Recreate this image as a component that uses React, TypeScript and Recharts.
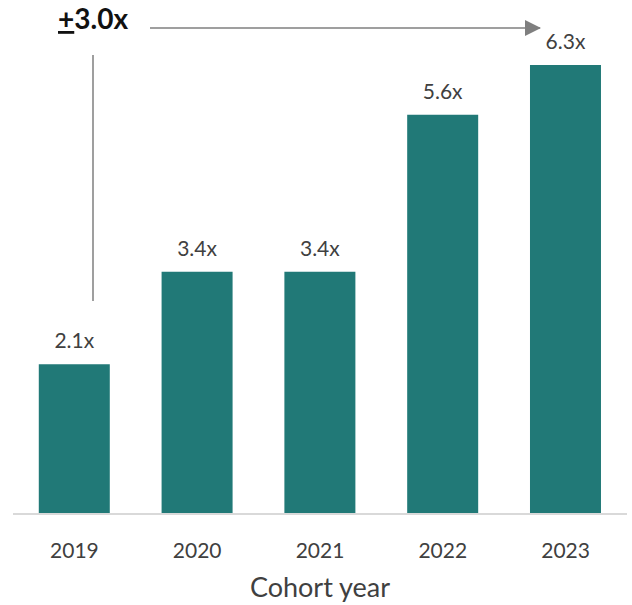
import React from 'react'
import { BarChart, Bar, XAxis, YAxis, LabelList } from 'recharts'

const years = ['2019', '2020', '2021', '2022', '2023']
const multiples = [2.1, 3.4, 3.4, 5.6, 6.3]
const growthLabel = '3.0x'
const axisTitle = 'Cohort year'

const data = years.map((year, i) => ({ year, value: multiples[i] }))

const FONT = 'Lato, "Open Sans", sans-serif'
const TEAL = '#217977'
const TEXT = '#404040'

function YearTick(props: any) {
  const { x, y, payload } = props
  return (
    <text x={x} y={y + 36} textAnchor="middle" fill={TEXT} fontSize={21} fontFamily={FONT}>
      {payload.value}
    </text>
  )
}

export default function App() {
  return (
    <div style={{ position: 'fixed', left: 0, top: 0, width: 632, height: 605, background: '#fff' }}>
      <BarChart
        width={632}
        height={605}
        data={data}
        margin={{ top: 15, right: 5, bottom: 0, left: 13 }}
        barCategoryGap="21%"
      >
        <YAxis hide domain={[0, 7]} />
        <XAxis
          dataKey="year"
          axisLine={{ stroke: '#d9d9d9', strokeWidth: 2 }}
          tickLine={false}
          tick={<YearTick />}
          height={91}
          label={{ value: axisTitle, position: 'insideBottom', offset: 8, fill: TEXT, fontSize: 27, fontFamily: FONT }}
        />
        <Bar dataKey="value" fill={TEAL} isAnimationActive={false}>
          <LabelList
            dataKey="value"
            position="top"
            offset={16}
            formatter={(v: any) => `${Number(v).toFixed(1)}x`}
            style={{ fill: TEXT, fontSize: 21, fontFamily: FONT }}
          />
        </Bar>
      </BarChart>
      <svg width={632} height={605} style={{ position: 'absolute', left: 0, top: 0, pointerEvents: 'none' }}>
        <defs>
          <marker id="arrow" markerWidth="16" markerHeight="16" refX="15" refY="8" orient="auto" markerUnits="userSpaceOnUse">
            <path d="M0,0 L16,8 L0,16 Z" fill="#7f7f7f" />
          </marker>
        </defs>
        <text x={58} y={29} fontSize={28} fontWeight={700} fontFamily={FONT} fill="#111">
          <tspan textDecoration="underline">+</tspan>
          {growthLabel}
        </text>
        <line x1={150} y1={28} x2={540} y2={28} stroke="#7f7f7f" strokeWidth={1.5} markerEnd="url(#arrow)" />
        <line x1={93} y1={55} x2={93} y2={301} stroke="#7f7f7f" strokeWidth={1.5} />
      </svg>
    </div>
  )
}
